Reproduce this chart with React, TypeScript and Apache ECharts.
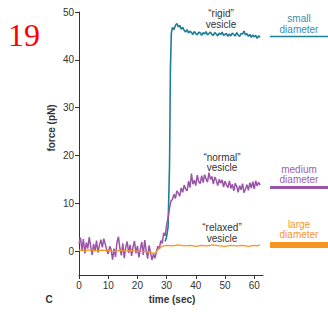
import React, { useEffect, useRef } from "react";
import * as echarts from "echarts";

const xTicks = [0, 10, 20, 30, 40, 50, 60];
const yTicks = [0, 10, 20, 30, 40, 50];

// "normal" vesicle (medium diameter), sampled every 0.5 s from t = 0
const normalStart = 0;
const normalStep = 0.5;
const normalForce = [
  1.5, 2.8, 0.2, 2.5, -0.5, 1.8, 0.5, 2.9, 1.0, -0.8, 1.5, 0.0, 2.2, -0.3, 1.2, 2.4, 0.8, 2.6, 1.4, 0.2,
  -0.6, 1.0, 0.3, -1.8, 0.5, -1.2, 1.8, 3.0, 0.6, -0.9, 1.6, -1.5, 0.8, 2.0, -0.4, 1.3, -1.0, 0.9, 2.1, -0.5,
  1.1, -1.3, 0.4, 1.9, -0.8, 2.3, 0.1, -1.6, 1.2, -0.3, -1.9, -0.6, -1.5,
  -0.2, 1.0, 0.4, 2.2, 1.6, 3.8, 3.2, 5.5, 7.0, 9.0, 10.5,
  10.8, 11.9, 11.0, 12.6, 12.1, 11.5, 13.2, 12.3, 13.8, 13.0, 12.6, 14.6, 13.3, 16.2, 14.0, 14.8, 13.7, 15.9,
  14.5, 14.1, 15.8, 14.3, 16.0, 15.1, 14.4, 16.4, 15.0, 15.6, 14.0, 15.5, 14.8, 13.7, 15.0, 14.2, 14.9, 13.4,
  14.6, 13.8, 13.3, 14.7, 13.1, 14.0, 12.6, 14.2, 13.5, 12.3, 13.7, 12.8, 14.1, 12.2, 13.0, 13.9, 12.7, 14.3,
  13.2, 14.5, 13.0, 14.7, 13.6, 14.4, 13.8,
];

// "rigid" vesicle (small diameter)
const rigidTime = [
  29.5, 30, 30.5, 31, 31.3, 31.6, 32, 32.5, 33, 33.5, 34, 34.5, 35, 35.5, 36, 36.5, 37, 37.5, 38, 38.5, 39,
  39.5, 40, 40.5, 41, 41.5, 42, 42.5, 43, 43.5, 44, 44.5, 45, 45.5, 46, 46.5, 47, 47.5, 48, 48.5, 49, 49.5,
  50, 50.5, 51, 51.5, 52, 52.5, 53, 53.5, 54, 54.5, 55, 55.5, 56, 56.5, 57, 57.5, 58, 58.5, 59, 59.5, 60,
  60.5, 61, 61.5, 62,
];
const rigidForce = [
  2.0, 3.0, 5.0, 18.0, 38.0, 45.5, 46.8, 46.3, 47.2, 47.6, 46.9, 47.2, 46.4, 46.8, 46.2, 45.8, 46.3, 45.6,
  46.0, 45.7, 45.3, 45.9, 45.5, 45.2, 45.8, 45.6, 45.1, 45.7, 45.4, 45.9, 45.2, 45.5, 45.8, 45.3, 45.1, 45.7,
  45.4, 45.0, 45.6, 45.3, 45.8, 45.1, 45.3, 45.5, 44.9, 45.4, 45.0, 45.6, 45.3, 45.0, 45.7, 45.2, 44.9, 45.5,
  45.4, 46.0, 45.2, 45.5, 44.9, 45.3, 44.7, 45.2, 44.8, 45.1, 44.5, 45.0, 44.7,
];

// "relaxed" vesicle (large diameter)
const relaxedTime = [
  0, 2, 4, 6, 8, 10, 12, 14, 16, 18, 20, 22, 24, 25, 26, 26.5, 27, 28, 29, 30, 32, 34, 36, 38, 40, 42, 44,
  46, 48, 50, 52, 54, 56, 58, 60, 61, 62,
];
const relaxedForce = [
  0.2, 0.1, 0.25, 0.05, 0.2, 0.1, -0.1, 0.15, 0.0, 0.1, 0.0, -0.05, -0.2, -0.4, -0.5, -0.2, 0.3, 0.8, 1.1,
  1.2, 1.1, 1.3, 1.1, 1.2, 1.0, 1.2, 1.1, 1.3, 1.1, 1.0, 1.2, 1.1, 1.2, 1.0, 1.2, 1.1, 1.3,
];

const TEAL = "#1f7d98";
const TEAL_TEXT = "#3a8db0";
const PURPLE = "#9b55a8";
const PURPLE_TEXT = "#a060b0";
const ORANGE = "#f7961f";
const INK = "#333333";
const FONT = "Liberation Sans, Arial, Helvetica, sans-serif";

export default function App() {
  const ref = useRef<HTMLDivElement>(null);
  useEffect(() => {
    document.body.style.margin = "0";
    const chart = echarts.init(ref.current!, null, { renderer: "svg" });
    const normalData = normalForce.map((v, i) => [normalStart + i * normalStep, v]);
    const rigidData = rigidTime.map((t, i) => [t, rigidForce[i]]);
    const relaxedData = relaxedTime.map((t, i) => [t, relaxedForce[i]]);

    const txt = (text: string, x: number, y: number, color: string, extra: any = {}) => ({
      type: "text",
      x,
      y,
      silent: true,
      style: {
        text,
        fill: color,
        font: `10px ${FONT}`,
        align: "center",
        verticalAlign: "middle",
        ...extra,
      },
    });

    chart.setOption({
      animation: false,
      grid: { left: 79, right: 65, top: 12, bottom: 37 },
      xAxis: {
        type: "value",
        min: 0,
        max: 63,
        splitLine: { show: false },
        axisLine: { show: true, onZero: false, lineStyle: { color: INK, width: 1 } },
        axisTick: { show: true, length: 4, customValues: xTicks, lineStyle: { color: INK } },
        axisLabel: { customValues: xTicks, color: INK, fontSize: 10, fontFamily: FONT, margin: 5 },
      },
      yAxis: {
        type: "value",
        min: -5,
        max: 50,
        splitLine: { show: false },
        axisLine: { show: true, lineStyle: { color: INK, width: 1 } },
        axisTick: { show: true, length: 4, customValues: yTicks, lineStyle: { color: INK } },
        axisLabel: { customValues: yTicks, color: INK, fontSize: 10, fontFamily: FONT, margin: 5 },
      },
      series: [
        {
          type: "line",
          data: rigidData,
          showSymbol: false,
          lineStyle: { color: TEAL, width: 1.6 },
          itemStyle: { color: TEAL },
        },
        {
          type: "line",
          data: normalData,
          showSymbol: false,
          lineStyle: { color: PURPLE, width: 1.5 },
          itemStyle: { color: PURPLE },
        },
        {
          type: "line",
          data: relaxedData,
          showSymbol: false,
          lineStyle: { color: ORANGE, width: 1.3 },
          itemStyle: { color: ORANGE },
        },
      ],
      graphic: [
        txt("19", 8, 35, "#ff0000", { font: `32px "Liberation Serif", "DejaVu Serif", serif`, align: "left" }),
        {
          type: "text",
          x: 51,
          y: 128,
          rotation: Math.PI / 2,
          silent: true,
          style: {
            text: "force (pN)",
            fill: INK,
            font: `bold 10px ${FONT}`,
            align: "center",
            verticalAlign: "middle",
          },
        },
        txt("time (sec)", 172, 299, INK, { font: `bold 10px ${FONT}` }),
        txt("C", 49, 299, INK, { font: `bold 10px ${FONT}` }),
        txt("\u201Crigid\u201D", 221, 13, INK),
        txt("vesicle", 221, 24, INK),
        txt("\u201Cnormal\u201D", 222, 157, INK),
        txt("vesicle", 222, 167, INK),
        txt("\u201Crelaxed\u201D", 222, 227, INK),
        txt("vesicle", 222, 238, INK),
        txt("small", 299, 18, TEAL_TEXT),
        txt("diameter", 299, 29, TEAL_TEXT),
        txt("medium", 299, 169, PURPLE_TEXT),
        txt("diameter", 299, 179, PURPLE_TEXT),
        txt("large", 299, 224, ORANGE),
        txt("diameter", 299, 234, ORANGE),
        {
          type: "line",
          silent: true,
          shape: { x1: 270, y1: 36.5, x2: 328, y2: 36.5 },
          style: { stroke: TEAL, lineWidth: 1.5 },
        },
        {
          type: "line",
          silent: true,
          shape: { x1: 270, y1: 187.5, x2: 328, y2: 187.5 },
          style: { stroke: PURPLE, lineWidth: 3 },
        },
        {
          type: "line",
          silent: true,
          shape: { x1: 270, y1: 245, x2: 328, y2: 245 },
          style: { stroke: ORANGE, lineWidth: 6 },
        },
      ],
    });
    return () => chart.dispose();
  }, []);
  return <div ref={ref} style={{ width: 328, height: 312 }} />;
}
